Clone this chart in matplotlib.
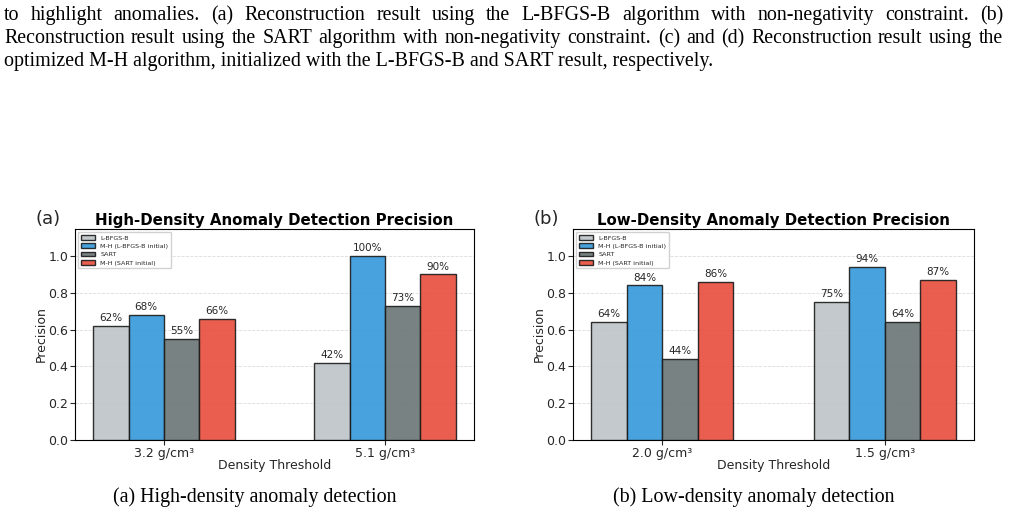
import matplotlib
matplotlib.use("Agg")
import matplotlib.pyplot as plt
import numpy as np

plt.rcParams["font.family"] = ["DejaVu Sans"]

W, H = 1010, 513

# ---- data ----
methods = ["L-BFGS-B", "M-H (L-BFGS-B initial)", "SART", "M-H (SART initial)"]
high_thresholds = ["3.2 g/cm³", "5.1 g/cm³"]
low_thresholds = ["2.0 g/cm³", "1.5 g/cm³"]
high_lbfgsb = [0.62, 0.42]
high_mh_lbfgsb = [0.68, 1.00]
high_sart = [0.55, 0.73]
high_mh_sart = [0.66, 0.90]
low_lbfgsb = [0.64, 0.75]
low_mh_lbfgsb = [0.84, 0.94]
low_sart = [0.44, 0.64]
low_mh_sart = [0.86, 0.87]

body_lines = [
    "to highlight anomalies.  (a) Reconstruction result using the L-BFGS-B algorithm with non-negativity constraint.  (b)",
    "Reconstruction result using the SART algorithm with non-negativity constraint. (c) and (d) Reconstruction result using the",
    "optimized M-H algorithm, initialized with the L-BFGS-B and SART result, respectively.",
]
captions = ["(a) High-density anomaly detection", "(b) Low-density anomaly detection"]
titles = ["High-Density Anomaly Detection Precision", "Low-Density Anomaly Detection Precision"]
panel_labels = ["(a)", "(b)"]

colors = ["#bdc3c7", "#3498db", "#6a7574", "#e74c3c"]
TXT = "#262626"
SANS = "DejaVu Sans"

fig = plt.figure(figsize=(W / 100, H / 100), dpi=100)
fig.patch.set_facecolor("white")


def fx(x):
    return x / W


def fy(y):
    return 1 - y / H


def panel(rect_px, thresholds, series, title, plabel):
    l, t, r, b = rect_px
    ax = fig.add_axes([fx(l), fy(b), (r - l) / W, (b - t) / H])
    x = np.arange(len(thresholds))
    w = 0.16
    for k, (vals, name, c) in enumerate(zip(series, methods, colors)):
        bars = ax.bar(x + (k - 1.5) * w, vals, w, label=name, color=c, alpha=0.9,
                      edgecolor="#1a1a1a", linewidth=1.0, zorder=3)
        for bar, v in zip(bars, vals):
            ax.annotate(f"{v * 100:.0f}%", (bar.get_x() + bar.get_width() / 2, v),
                        xytext=(0, 2), textcoords="offset points", ha="center", va="bottom",
                        fontsize=7.5, color=TXT, family=SANS)
    ax.set_ylim(0, 1.147)
    ax.set_yticks([0, 0.2, 0.4, 0.6, 0.8, 1.0])
    ax.set_xticks(x)
    ax.set_xticklabels(thresholds, family=SANS)
    ax.tick_params(labelsize=9, colors=TXT, length=3.5, pad=1.5)
    for lab in ax.get_yticklabels():
        lab.set_family(SANS)
    ax.set_ylabel("Precision", fontsize=9, color=TXT, family=SANS, labelpad=0)
    ax.set_xlabel("Density Threshold", fontsize=9, color=TXT, labelpad=-0.5, family=SANS)
    ax.set_title(title, fontsize=10.8, fontweight="bold", color="black", pad=3, family=SANS)
    ax.yaxis.grid(True, linestyle="--", color="#cccccc", alpha=0.7, linewidth=0.6, zorder=0)
    ax.set_axisbelow(True)
    leg = ax.legend(loc="upper left", prop={"family": SANS, "size": 4.6}, frameon=True,
                    framealpha=0.9, edgecolor="#cccccc", handlelength=2.2, handleheight=0.7,
                    borderpad=0.45, labelspacing=0.45, fancybox=True)
    for txt in leg.get_texts():
        txt.set_color(TXT)
    fig.text(fx(l - 27), fy(219), plabel, fontsize=13, ha="center", va="center",
             color=TXT, family=SANS)
    return ax


panel((75, 229, 474, 440), high_thresholds,
      [high_lbfgsb, high_mh_lbfgsb, high_sart, high_mh_sart], titles[0], panel_labels[0])
panel((573, 229, 974, 440), low_thresholds,
      [low_lbfgsb, low_mh_lbfgsb, low_sart, low_mh_sart], titles[1], panel_labels[1])

# ---- body text (justified) ----
renderer = fig.canvas.get_renderer()
SERIF = "Liberation Serif"


def natural_width(s, size):
    t = fig.text(0, 0, s, fontsize=size, family=SERIF)
    wdt = t.get_window_extent(renderer).width
    t.remove()
    return wdt


fs3 = 10 * 708 / natural_width(body_lines[2], 10)
fs2 = 10 * 985 / natural_width(body_lines[1], 10)
fs = 0.5 * (fs3 + fs2)


def justify(line, ybase, x0, x1):
    words = line.split()
    objs = [fig.text(0, 0, wd, fontsize=fs, family=SERIF, va="baseline", color="black") for wd in words]
    widths = [o.get_window_extent(renderer).width for o in objs]
    gap = (x1 - x0 - sum(widths)) / (len(words) - 1)
    xx = x0
    for o, wd in zip(objs, widths):
        o.set_position((fx(xx), fy(ybase)))
        xx += wd + gap


justify(body_lines[0], 20, 4, 1003)
justify(body_lines[1], 43, 4, 1003)
fig.text(fx(4), fy(66), body_lines[2], fontsize=fs, family=SERIF, va="baseline", color="black")

fig.text(fx(255), fy(502), captions[0], fontsize=fs, family=SERIF, ha="center", va="baseline", color="black")
fig.text(fx(754), fy(502), captions[1], fontsize=fs, family=SERIF, ha="center", va="baseline", color="black")

fig.savefig("out.png", dpi=100, facecolor="white")
